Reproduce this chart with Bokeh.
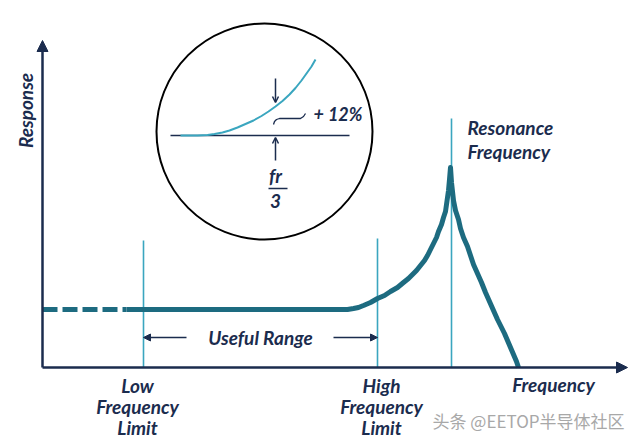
from bokeh.plotting import figure
from bokeh.models import Range1d, Arrow, NormalHead, OpenHead, ColumnDataSource
from bokeh.core.properties import value
from bokeh.embed import file_html
from bokeh.resources import INLINE

# ---- data (frequency / response units, origin at axes corner) ----
dashed_freq = [0, 84]
dashed_resp = [58, 58]
curve_freq = [84, 298, 305, 311, 316, 321, 328, 335, 342, 348, 355, 361, 366, 370, 374, 378, 382, 385,
              388, 391, 394, 396, 399, 401, 403, 404, 405, 406, 407, 408,
              409, 411, 413, 416, 418, 421, 425, 428, 431, 435, 439, 443, 447, 451, 455, 458, 462,
              465, 468, 471, 474, 476]
curve_resp = [58, 58, 58, 59, 60, 62, 65, 69, 72, 76, 80, 85, 89, 93, 97, 102, 107, 112,
              118, 124, 130, 136, 143, 150, 156, 163, 170, 177, 188, 200,
              185, 167, 157, 148, 139, 130, 121, 112, 103, 94, 85, 75, 66, 57, 48, 42, 34,
              27, 20, 13, 6, 0]
limit_freq = [101, 335, 409]          # low limit, high limit, resonance
limit_top = [127, 129, 249]
useful_resp = 30

# magnified inset (circle)
inset_center = (222, 236)
inset_radius = 108
inset_freq = [138, 155, 165, 172, 180, 187, 195, 203, 211, 219, 226, 233, 240, 247, 253, 259,
              264, 269, 273]
inset_resp = [232, 232, 232.5, 233.5, 235, 237, 240, 243.5, 247, 251.5, 256, 261, 266.5, 273,
              279.5, 287, 294, 301, 308]
inset_base_freq = [128, 307]
inset_base_resp = [232, 232]
leader_freq = [231, 232, 234, 237, 240, 258, 261, 263]
leader_resp = [243, 246, 248, 249, 249, 249, 251, 254]
marker_freq = 233

labels = ["Low", "Frequency", "Limit", "High", "Frequency", "Limit", "Frequency"]
label_x = [95, 95, 95, 339, 339, 339, 511]
label_y = [-18, -39, -60, -18, -39, -60, -17]
res_labels = ["Resonance", "Frequency"]
res_x = [425, 425]
res_y = [240, 216]

NAVY = "#1b2c4e"
TEAL = "#1d6b80"
LIGHT = "#3aa6bf"
FONT = value("Lato")

p = figure(width=640, height=444, output_backend="svg", toolbar_location=None,
           x_range=Range1d(-42, 598), y_range=Range1d(-77, 367), min_border=0)
p.axis.visible = False
p.grid.visible = False
p.outline_line_color = None
p.background_fill_color = "white"

# vertical limit lines
for f, t in zip(limit_freq, limit_top):
    p.line([f, f], [0, t], line_color=LIGHT, line_width=1.6)

# response curve
p.line(dashed_freq, dashed_resp, line_color=TEAL, line_width=5, line_dash="15 5")
p.line(curve_freq, curve_resp, line_color=TEAL, line_width=5, line_join="round")

# axes with arrows
p.add_layout(Arrow(end=NormalHead(size=11, fill_color=NAVY, line_color=NAVY),
                   x_start=0, y_start=0, x_end=0, y_end=327, line_color=NAVY, line_width=2.5))
p.add_layout(Arrow(end=NormalHead(size=11, fill_color=NAVY, line_color=NAVY),
                   x_start=0, y_start=0, x_end=585, y_end=0, line_color=NAVY, line_width=2.5))

# useful range arrows
p.add_layout(Arrow(end=NormalHead(size=7, fill_color=NAVY, line_color=NAVY),
                   x_start=144, y_start=useful_resp, x_end=limit_freq[0], y_end=useful_resp,
                   line_color=NAVY, line_width=1.5))
p.add_layout(Arrow(end=NormalHead(size=7, fill_color=NAVY, line_color=NAVY),
                   x_start=291, y_start=useful_resp, x_end=limit_freq[1], y_end=useful_resp,
                   line_color=NAVY, line_width=1.5))
p.text([218], [useful_resp], text=["Useful Range"], text_font=FONT, text_font_size="19px",
       text_font_style="bold italic", text_color=NAVY, text_align="center", text_baseline="middle")

# inset
p.circle([inset_center[0]], [inset_center[1]], radius=inset_radius, fill_color="white",
         line_color="black", line_width=2)
p.line(inset_base_freq, inset_base_resp, line_color=NAVY, line_width=1.5)
p.line(inset_freq, inset_resp, line_color=LIGHT, line_width=2, line_join="round")
p.line(leader_freq, leader_resp, line_color=NAVY, line_width=1.3)
p.add_layout(Arrow(end=OpenHead(size=6, line_color=NAVY, line_width=1.5),
                   x_start=marker_freq, y_start=289, x_end=marker_freq, y_end=265,
                   line_color=NAVY, line_width=1.5))
p.add_layout(Arrow(end=OpenHead(size=6, line_color=NAVY, line_width=1.5),
                   x_start=marker_freq, y_start=207, x_end=marker_freq, y_end=230,
                   line_color=NAVY, line_width=1.5))
p.text([271], [254], text=["+ 12%"], text_font=FONT, text_font_size="18px",
       text_font_style="bold italic", text_color=NAVY, text_align="left", text_baseline="middle")
p.text([marker_freq], [181], text=["fr"], text_font=FONT, text_font_size="19px",
       text_font_style="bold italic", text_color=NAVY, text_align="center", text_baseline="bottom")
p.line([226, 245], [179, 179], line_color=NAVY, line_width=1.5)
p.text([marker_freq], [167], text=["3"], text_font=FONT, text_font_size="19px",
       text_font_style="bold italic", text_color=NAVY, text_align="center", text_baseline="middle")

# labels
src = ColumnDataSource(dict(x=label_x, y=label_y, t=labels))
p.text("x", "y", text="t", source=src, text_font=FONT, text_font_size="19px",
       text_font_style="bold italic", text_color=NAVY, text_align="center", text_baseline="middle")
p.text(res_x, res_y, text=res_labels, text_font=FONT, text_font_size="19px",
       text_font_style="bold italic", text_color=NAVY, text_align="left", text_baseline="middle")
p.text([-17], [257], text=["Response"], text_font=FONT, text_font_size="19px",
       text_font_style="bold italic", text_color=NAVY, text_align="center", text_baseline="middle",
       angle=1.5708)

# watermark
p.text([390], [-53], text=["头条 @EETOP半导体社区"], text_font=value("Noto Sans CJK SC"),
       text_font_size="17px", text_color="#a8a8a8", text_align="left", text_baseline="middle")

open("out.html", "w").write(file_html(p, INLINE))
